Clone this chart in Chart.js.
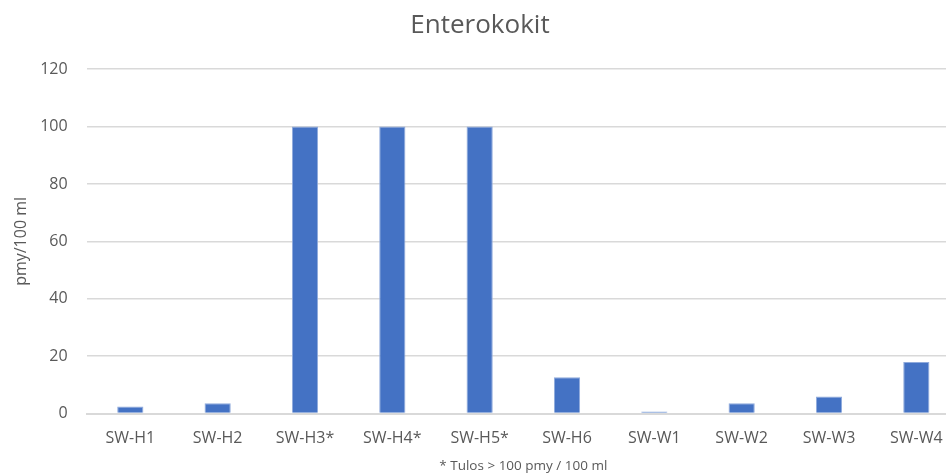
<!DOCTYPE html>
<html>
<head>
<meta charset="utf-8">
<script src="https://cdn.jsdelivr.net/npm/chart.js@4"></script>
<style>
  html, body { margin: 0; padding: 0; overflow: hidden; background: #fff; }
  #wrap { width: 960px; height: 474px; }
</style>
</head>
<body>
<div id="wrap"><canvas id="chart"></canvas></div>
<script>
// sample points and enterococci counts (pmy/100 ml)
const sites = ['SW-H1', 'SW-H2', 'SW-H3*', 'SW-H4*', 'SW-H5*', 'SW-H6', 'SW-W1', 'SW-W2', 'SW-W3', 'SW-W4'];
const counts = [2.5, 3.6, 100, 100, 100, 12.7, 0.7, 3.6, 6, 18];
const yTicks = [0, 20, 40, 60, 80, 100, 120];

const grey = '#595959';
Chart.defaults.font.family = '"Open Sans", sans-serif';
Chart.defaults.color = grey;

const ctx = document.getElementById('chart');
new Chart(ctx, {
  type: 'bar',
  data: {
    labels: sites,
    datasets: [{
      label: 'Enterokokit',
      data: counts,
      backgroundColor: '#4472C4',
      borderColor: '#8faadc',
      borderWidth: 1,
      barPercentage: 0.3,
      categoryPercentage: 1
    }]
  },
  options: {
    responsive: true,
    maintainAspectRatio: false,
    animation: false,
    layout: { padding: { top: 6, left: 0, right: 0, bottom: 0 } },
    plugins: {
      legend: { display: false },
      tooltip: { enabled: false },
      title: {
        display: true,
        text: 'Enterokokit',
        color: grey,
        font: { size: 26, weight: 'normal' },
        padding: { top: 4, bottom: 28 }
      }
    },
    scales: {
      x: {
        grid: { display: false, drawTicks: false },
        border: { color: '#d9d9d9', width: 2 },
        ticks: { color: grey, font: { size: 16 }, padding: 15, maxRotation: 0 },
        title: {
          display: true,
          text: '* Tulos > 100 pmy / 100 ml',
          color: grey,
          font: { size: 13.5 },
          padding: { top: -5, bottom: 0 }
        }
      },
      y: {
        min: 0,
        max: 120,
        afterBuildTicks: axis => { axis.ticks = yTicks.map(v => ({ value: v })); },
        grid: { color: '#d9d9d9', lineWidth: 1.5, drawTicks: false },
        border: { display: false },
        ticks: { color: grey, font: { size: 16 }, padding: 19 },
        title: {
          display: true,
          text: 'pmy/100 ml',
          color: grey,
          font: { size: 16 },
          padding: { top: 12, bottom: -10 }
        }
      }
    }
  }
});
</script>
</body>
</html>
